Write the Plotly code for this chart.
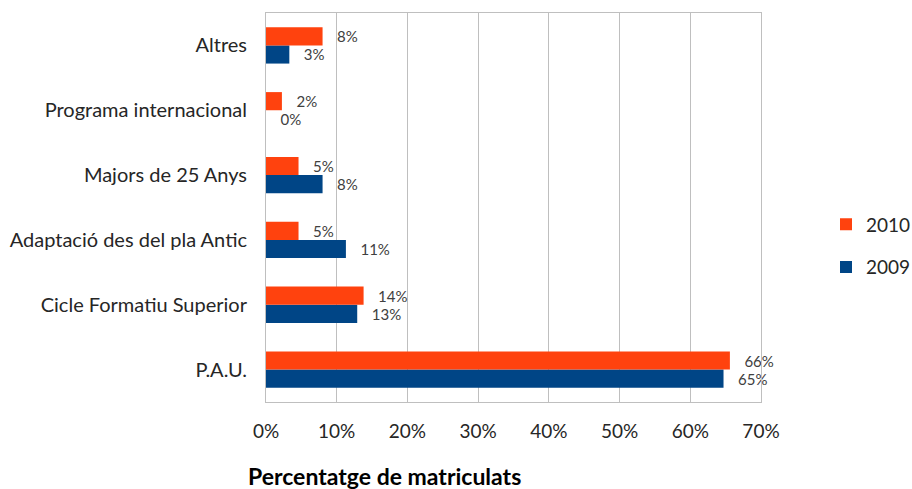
import plotly.graph_objects as go

categories = ["P.A.U.", "Cicle Formatiu Superior", "Adaptació des del pla Antic",
              "Majors de 25 Anys", "Programa internacional", "Altres"]
values_2009 = [64.7, 12.9, 11.3, 8.0, 0.0, 3.3]
values_2010 = [65.6, 13.8, 4.6, 4.6, 2.25, 8.0]
labels_2009 = ["65%", "13%", "11%", "8%", "0%", "3%"]
labels_2010 = ["66%", "14%", "5%", "5%", "2%", "8%"]
tick_vals = [0, 10, 20, 30, 40, 50, 60, 70]
tick_text = ["0%", "10%", "20%", "30%", "40%", "50%", "60%", "70%"]

FONT = "Lato"
label_font = dict(family=FONT, size=15, color="#404040")

L, R, T, B = 266, 151, 13, 87
W, H = 912, 489
plot_w = W - L - R
plot_h = H - T - B

fig = go.Figure()
fig.add_trace(go.Bar(
    y=categories, x=values_2009, orientation="h", name="2009",
    marker=dict(color="#004586", line=dict(width=0)),
    text=["   " + t for t in labels_2009], textposition="outside",
    textfont=label_font, cliponaxis=False, legendrank=2, legendgroup="g2009",
))
fig.add_trace(go.Bar(
    y=categories, x=values_2010, orientation="h", name="2010",
    marker=dict(color="#FF420E", line=dict(width=0)),
    text=["   " + t for t in labels_2010], textposition="outside",
    textfont=label_font, cliponaxis=False, legendrank=1, legendgroup="g2010",
))

fig.update_layout(
    width=W, height=H,
    margin=dict(l=L, r=R, t=T, b=B, autoexpand=False),
    paper_bgcolor="white", plot_bgcolor="white",
    barmode="group", bargap=0.44, bargroupgap=0,
    font=dict(family=FONT, size=18, color="#262626"),
    legend=dict(x=(826 - L) / plot_w, y=(H - B - 246) / plot_h,
                xanchor="left", yanchor="middle",
                traceorder="grouped", itemwidth=30, tracegroupgap=15,
                font=dict(family=FONT, size=19, color="#262626")),
    xaxis=dict(range=[0, 70], tickvals=tick_vals, ticktext=tick_text,
               showgrid=True, gridcolor="#BFBFBF", gridwidth=1,
               showline=True, linecolor="#BFBFBF", mirror=True,
               zeroline=False, ticks="", ticklabelstandoff=12, automargin=False,
               tickfont=dict(family=FONT, size=19, color="#262626")),
    yaxis=dict(showline=True, linecolor="#BFBFBF", mirror=True,
               ticks="", ticklabelstandoff=14, automargin=False,
               tickfont=dict(family=FONT, size=20, color="#262626")),
    annotations=[dict(text="<b>Percentatge de matriculats</b>",
                      x=(384 - L) / plot_w, y=(H - B - 476) / plot_h,
                      xref="paper", yref="paper", showarrow=False,
                      xanchor="center", yanchor="middle",
                      font=dict(family=FONT, size=23, color="#000000"))],
)

fig.write_html("out.html", config={"displayModeBar": False},
               post_script="document.body.style.margin='0';document.body.style.padding='0';")
